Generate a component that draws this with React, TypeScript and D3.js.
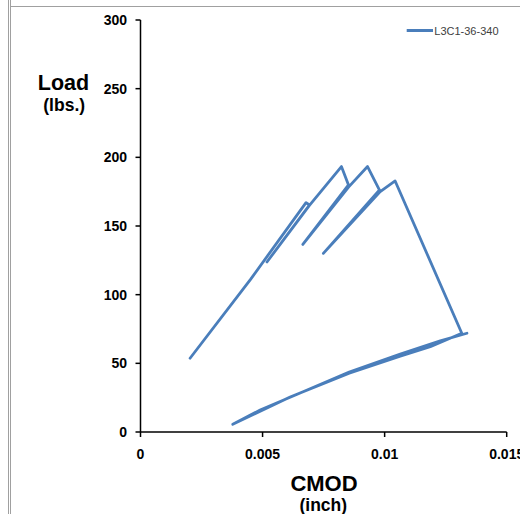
import React from "react";
import * as d3 from "d3";

// CMOD (inch) and Load (lbs.)
const cmod: number[] = [
  0.00203, 0.0045, 0.00678, 0.00692, 0.00518,
  0.00692, 0.00823, 0.00852, 0.00665,
  0.00853, 0.0093, 0.00979, 0.00749,
  0.00982, 0.01043, 0.01316,
  0.01187, 0.01064, 0.00855, 0.00613, 0.00449, 0.00378,
  0.0049, 0.00654, 0.00855, 0.01064, 0.01228, 0.01337,
];
const load: number[] = [
  53.7, 111, 167, 165.3, 123.8,
  165.0, 193.3, 179.9, 136.6,
  178.5, 193.3, 176.2, 130.1,
  175.0, 182.8, 71.9,
  62.1, 55.3, 42.9, 25.5, 11.7, 5.6,
  16.0, 28.4, 43.7, 56.8, 66.3, 71.9,
];
const seriesName = "L3C1-36-340";
const xTicks: number[] = [0, 0.005, 0.01, 0.015];
const xTickLabels: string[] = ["0", "0.005", "0.01", "0.015"];
const yTicks: number[] = [0, 50, 100, 150, 200, 250, 300];

const W = 520;
const H = 514;
const x = d3.scaleLinear().domain([0, 0.015]).range([140.5, 506.7]);
const y = d3.scaleLinear().domain([0, 300]).range([432, 20]);
const lineColor = "#4a7ebb";
const font = "'Liberation Sans', Arial, sans-serif";

export default function App() {
  const pts: [number, number][] = cmod.map((c, i) => [c, load[i]]);
  const path = d3
    .line<[number, number]>()
    .x((d) => x(d[0]))
    .y((d) => y(d[1]))(pts) as string;

  return (
    <svg
      width={W}
      height={H}
      style={{ position: "absolute", left: 0, top: 0, background: "#fff" }}
    >
      {/* frame */}
      <line x1={8.5} x2={8.5} y1={0} y2={H} stroke="#a0a0a0" strokeWidth={1} />
      <line x1={10.5} x2={10.5} y1={0} y2={H} stroke="#a0a0a0" strokeWidth={1} />
      <line x1={10.5} x2={W} y1={6.5} y2={6.5} stroke="#a0a0a0" strokeWidth={1} />

      {/* data */}
      <path
        d={path}
        fill="none"
        stroke={lineColor}
        strokeWidth={2.8}
        strokeLinejoin="round"
        strokeLinecap="round"
      />

      {/* y axis */}
      <line x1={x(0)} x2={x(0)} y1={y(300)} y2={y(0)} stroke="#000" strokeWidth={1.5} />
      {yTicks.map((t) => (
        <g key={"y" + t}>
          <line x1={x(0) - 5} x2={x(0)} y1={y(t)} y2={y(t)} stroke="#000" strokeWidth={1.5} />
          <text
            x={127}
            y={y(t) + 5}
            textAnchor="end"
            fontFamily={font}
            fontWeight="bold"
            fontSize={14}
            fill="#000"
          >
            {t}
          </text>
        </g>
      ))}

      {/* x axis */}
      <line x1={x(0)} x2={x(0.015)} y1={y(0)} y2={y(0)} stroke="#000" strokeWidth={1.5} />
      {xTicks.map((t, i) => (
        <g key={"x" + t}>
          <line x1={x(t)} x2={x(t)} y1={y(0)} y2={y(0) + 5} stroke="#000" strokeWidth={1.5} />
          <text
            x={x(t)}
            y={458.5}
            textAnchor="middle"
            fontFamily={font}
            fontWeight="bold"
            fontSize={14}
            fill="#000"
          >
            {xTickLabels[i]}
          </text>
        </g>
      ))}

      {/* axis titles */}
      <text x={63.5} y={90} textAnchor="middle" fontFamily={font} fontWeight="bold" fontSize={21.5} fill="#000">
        Load
      </text>
      <text x={64.2} y={111} textAnchor="middle" fontFamily={font} fontWeight="bold" fontSize={17.5} fill="#000">
        (lbs.)
      </text>
      <text x={324} y={491} textAnchor="middle" fontFamily={font} fontWeight="bold" fontSize={22} fill="#000">
        CMOD
      </text>
      <text x={323.3} y={511} textAnchor="middle" fontFamily={font} fontWeight="bold" fontSize={17.5} fill="#000">
        (inch)
      </text>

      {/* legend */}
      <line x1={406.7} x2={433} y1={30.5} y2={30.5} stroke={lineColor} strokeWidth={3} />
      <text x={434.3} y={34.5} fontFamily={font} fontSize={11} fill="#404040">
        {seriesName}
      </text>
    </svg>
  );
}
